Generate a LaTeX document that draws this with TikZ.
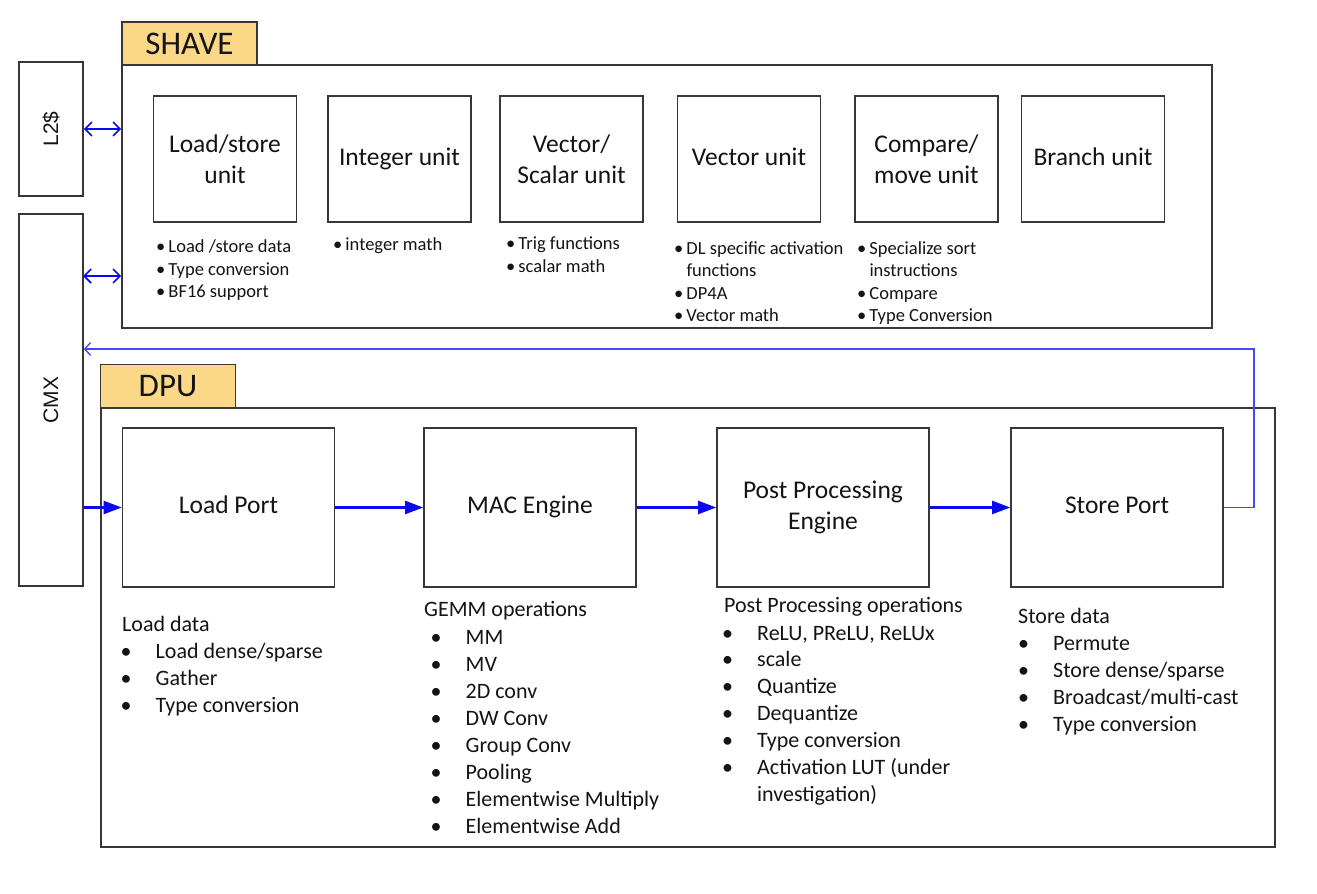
\documentclass[tikz,border=0pt]{standalone}
\usepackage{fontspec}
\setmainfont{Carlito}
\newfontfamily\arialf{Liberation Sans}
\usetikzlibrary{arrows.meta}
\definecolor{tabfill}{RGB}{250,216,136}
\definecolor{edgec}{RGB}{55,55,55}
\definecolor{flow}{RGB}{10,10,240}
\definecolor{fbline}{RGB}{70,70,250}
\definecolor{txt}{RGB}{20,20,20}
\begin{document}
\begin{tikzpicture}[x=1pt,y=-1pt,
  container/.style={draw=edgec, line width=1.6pt, inner sep=0pt},
  tabbox/.style={draw=edgec, fill=tabfill, line width=1.6pt, inner sep=0pt, minimum width=135pt, minimum height=43pt, font=\fontsize{33}{36}\selectfont, text=txt},
  sidebox/.style={draw=edgec, line width=1.6pt, inner sep=0pt, minimum width=64pt},
  sidelabel/.style={rotate=90, font=\arialf\fontsize{21}{24}\selectfont, text=txt, inner sep=0pt},
  unitbox/.style={draw=edgec, line width=1.6pt, inner sep=0pt, minimum width=143pt, minimum height=126pt, align=center, font=\fontsize{25.5}{31.5}\selectfont, text=txt},
  dpubox/.style={draw=edgec, line width=1.6pt, inner sep=0pt, minimum width=212pt, minimum height=159pt, align=center, font=\fontsize{25.5}{31.5}\selectfont, text=txt},
  sitem/.style={anchor=base west, inner sep=0pt, font=\fontsize{18.5}{23}\selectfont, text=txt},
  dhead/.style={anchor=base west, inner sep=0pt, font=\fontsize{22}{27}\selectfont, text=txt},
  ditem/.style={anchor=base west, inner sep=0pt, font=\fontsize{22}{27}\selectfont, text=txt},
  dbul/.style={anchor=base, inner sep=0pt, font=\fontsize{22}{27}\selectfont, text=txt},
  dblarrow/.style={draw=flow, line width=1.6pt, {Straight Barb[length=7pt,width=14pt]}-{Straight Barb[length=7pt,width=14pt]}},
  flowarrow/.style={draw=flow, line width=2.2pt, -{Triangle[length=18pt,width=13pt]}},
  fbarrow/.style={draw=fbline, line width=1.3pt, -{Straight Barb[length=6pt,width=13pt]}}
]
\fill[white] (0,0) rectangle (1317,894);
\useasboundingbox (0,0) rectangle (1317,894);

% side memories
\node[sidebox, minimum height=134pt] (l2) at (51,129) {};
\node[sidelabel] (l2t) at (l2.center) {L2\$};
\node[sidebox, minimum height=372pt] (cmx) at (51,400) {};
\node[sidelabel] (cmxt) at (cmx.center) {CMX};

% SHAVE
\node[container, minimum width=1090pt, minimum height=263pt] (shave) at (667,196.5) {};
\node[tabbox] (shavetab) at (189.5,43.5) {SHAVE};

\node[unitbox] (ls)  at (225,159)    {Load/store\\unit};
\node[unitbox] (int) at (399.5,159)  {\strut Integer unit};
\node[unitbox] (vs)  at (571.5,159)  {Vector/\\Scalar unit};
\node[unitbox] (vec) at (749,159)    {\strut Vector unit};
\node[unitbox] (cmp) at (926.5,159)  {Compare/\\move unit};
\node[unitbox] (br)  at (1093,159)   {\strut Branch unit};

\node[sitem] (ls1) at (156,252) {\textbullet\,Load /store data};
\node[sitem] (ls2) at (156,275) {\textbullet\,Type conversion};
\node[sitem] (ls3) at (156,297) {\textbullet\,BF16 support};
\node[sitem] (in1) at (333,250) {\textbullet\,integer math};
\node[sitem] (vs1) at (506,249) {\textbullet\,Trig functions};
\node[sitem] (vs2) at (506,272) {\textbullet\,scalar math};
\node[sitem] (ve1) at (674,254) {\textbullet\,DL specific activation};
\node[sitem] (ve2) at (674,276) {\phantom{\textbullet\,}functions};
\node[sitem] (ve3) at (674,299) {\textbullet\,DP4A};
\node[sitem] (ve4) at (674,321) {\textbullet\,Vector math};
\node[sitem] (cm1) at (857,254) {\textbullet\,Specialize sort};
\node[sitem] (cm2) at (857,276) {\phantom{\textbullet\,}instructions};
\node[sitem] (cm3) at (857,299) {\textbullet\,Compare};
\node[sitem] (cm4) at (857,321) {\textbullet\,Type Conversion};

% DPU
\node[container, minimum width=1174pt, minimum height=439pt] (dpu) at (688,627.5) {};
\node[tabbox] (taddpu) at (168,386) {DPU};

\node[dpubox] (load)  at (228.5,507.5) {\strut Load Port};
\node[dpubox] (mac)   at (530,507.5)   {\strut MAC Engine};
\node[dpubox] (ppe)   at (823,507.5)   {Post Processing\\Engine};
\node[dpubox] (store) at (1117,507.5)  {\strut Store Port};

% lists under DPU units
\node[dhead] (ldh) at (122,631) {Load data};
\foreach \t [count=\i from 0] in {Load dense/sparse, Gather, Type conversion} {
  \node[dbul] (ldb\i) at (126,{658+27*\i}) {\textbullet};
  \node[ditem] (ldt\i) at (155.5,{658+27*\i}) {\t};
}
\node[dhead] (gmh) at (424,616) {GEMM operations};
\foreach \t [count=\i from 0] in {MM, MV, 2D conv, DW Conv, Group Conv, Pooling, Elementwise Multiply, Elementwise Add} {
  \node[dbul] (gmb\i) at (436,{644+27.1*\i}) {\textbullet};
  \node[ditem] (gmt\i) at (465.5,{644+27.1*\i}) {\t};
}
\node[dhead] (pph) at (724,612) {Post Processing operations};
\foreach \t [count=\i from 0] in {{ReLU, PReLU, ReLUx}, scale, Quantize, Dequantize, Type conversion, Activation LUT (under} {
  \node[dbul] (ppb\i) at (727.5,{640+26.9*\i}) {\textbullet};
  \node[ditem] (ppt\i) at (757,{640+26.9*\i}) {\t};
}
\node[ditem] (ppt6) at (757,{640+26.9*6}) {investigation)};
\node[dhead] (sth) at (1018,623) {Store data};
\foreach \t [count=\i from 0] in {Permute, Store dense/sparse, Broadcast/multi-cast, Type conversion} {
  \node[dbul] (stb\i) at (1023.5,{650+27.3*\i}) {\textbullet};
  \node[ditem] (stt\i) at (1053,{650+27.3*\i}) {\t};
}

% connectors
\draw[dblarrow] (l2.east) -- (l2.east -| shave.west);
\coordinate (cmxs) at (83,276);
\draw[dblarrow] (cmxs) -- (cmxs -| shave.west);
\draw[flowarrow] (cmx.east |- load.west) -- (load.west);
\draw[flowarrow] (load.east) -- (mac.west);
\draw[flowarrow] (mac.east) -- (ppe.west);
\draw[flowarrow] (ppe.east) -- (store.west);
\coordinate (fbc) at (1254,349);
\draw[fbarrow] (store.east) -| (fbc) -- (fbc -| cmx.east);
\end{tikzpicture}
\end{document}
